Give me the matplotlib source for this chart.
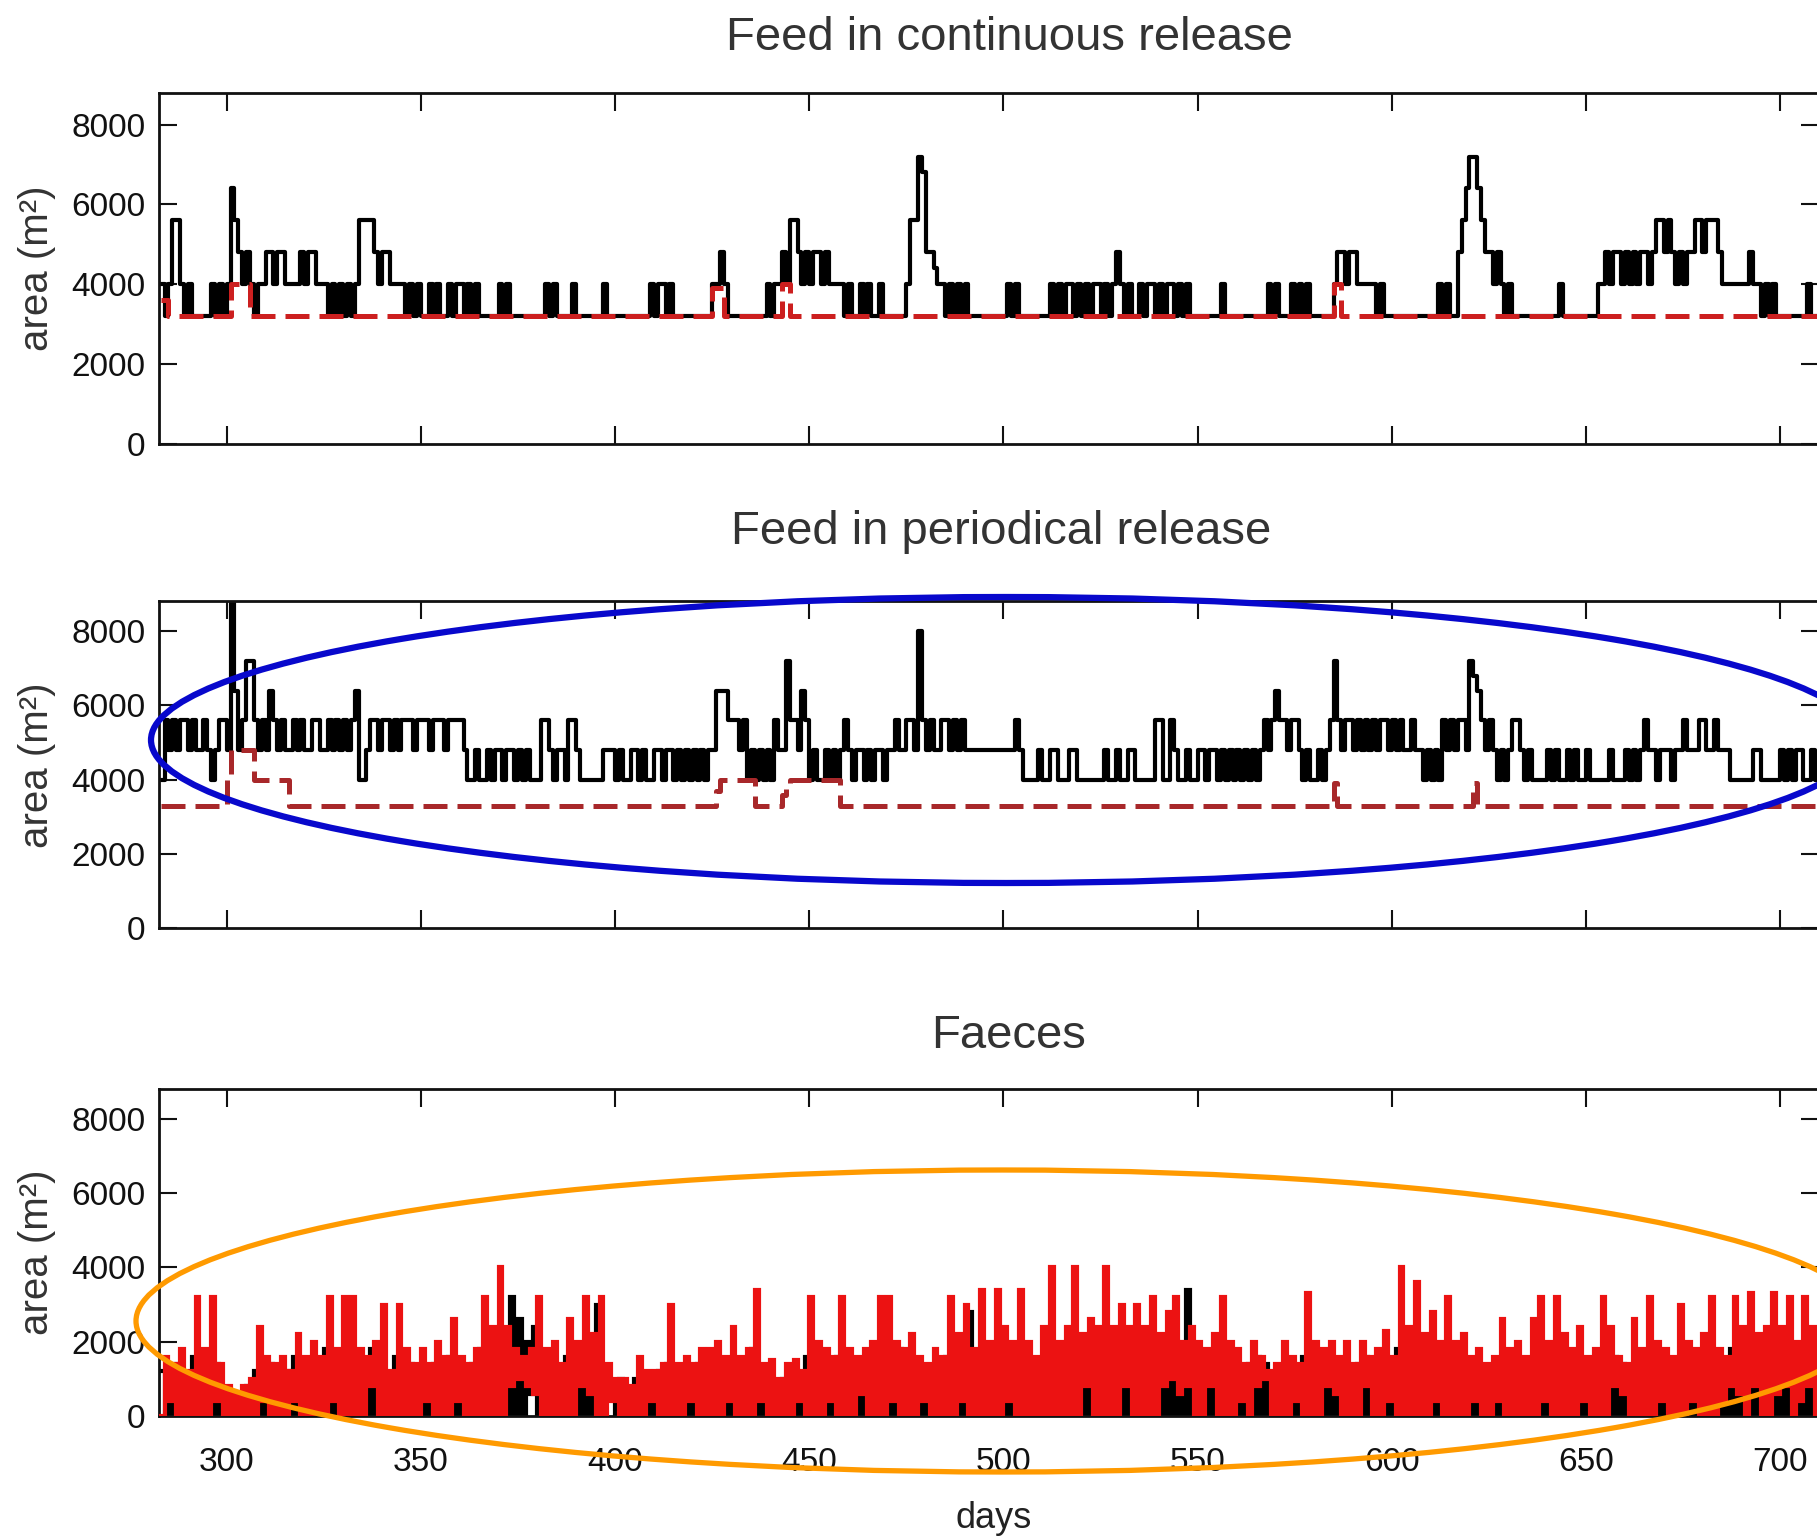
import numpy as np
import matplotlib
matplotlib.use("Agg")
import matplotlib.pyplot as plt
from matplotlib.patches import Ellipse

# ---------------- data (area in m^2, one value per day from FIRST_DAY) ----------------
FIRST_DAY = 283

cont_black = [
    4000, 3200, 4000, 5600, 5600, 4000, 3200, 4000, 3200, 3200,   # 283
    3200, 3200, 3200, 4000, 3200, 4000, 3200, 4000, 6400, 5600,   # 293
    4800, 4000, 4800, 4000, 3200, 4000, 4000, 4800, 4800, 4000,   # 303
    4800, 4800, 4000, 4000, 4000, 4000, 4800, 4000, 4800, 4800,   # 313
    4000, 4000, 4000, 3200, 4000, 3200, 4000, 3200, 4000, 3200,   # 323
    4000, 5600, 5600, 5600, 5600, 4800, 4000, 4800, 4800, 4000,   # 333
    4000, 4000, 4000, 3200, 4000, 3200, 4000, 3200, 3200, 4000,   # 343
    3200, 4000, 3200, 3200, 4000, 3200, 4000, 4000, 3200, 4000,   # 353
    3200, 4000, 3200, 3200, 3200, 3200, 3200, 4000, 3200, 4000,   # 363
    3200, 3200, 3200, 3200, 3200, 3200, 3200, 3200, 3200, 4000,   # 373
    3200, 4000, 3200, 3200, 3200, 3200, 4000, 3200, 3200, 3200,   # 383
    3200, 3200, 3200, 3200, 4000, 3200, 3200, 3200, 3200, 3200,   # 393
    3200, 3200, 3200, 3200, 3200, 3200, 4000, 3200, 4000, 4000,   # 403
    3200, 4000, 3200, 3200, 3200, 3200, 3200, 3200, 3200, 3200,   # 413
    3200, 3200, 4000, 4000, 4800, 4000, 3200, 3200, 3200, 3200,   # 423
    3200, 3200, 3200, 3200, 3200, 3200, 4000, 3200, 4000, 4000,   # 433
    4800, 4000, 5600, 5600, 4800, 4000, 4800, 4000, 4800, 4800,   # 443
    4000, 4800, 4000, 4000, 4000, 4000, 3200, 4000, 3200, 3200,   # 453
    4000, 3200, 4000, 3200, 3200, 4000, 3200, 3200, 3200, 3200,   # 463
    3200, 3200, 4000, 5600, 5600, 7200, 6800, 4800, 4800, 4400,   # 473
    4000, 4000, 3200, 4000, 3200, 4000, 3200, 4000, 3200, 3200,   # 483
    3200, 3200, 3200, 3200, 3200, 3200, 3200, 3200, 4000, 3200,   # 493
    4000, 3200, 3200, 3200, 3200, 3200, 3200, 3200, 3200, 4000,   # 503
    3200, 4000, 3200, 4000, 4000, 3200, 4000, 3200, 4000, 3200,   # 513
    4000, 4000, 3200, 4000, 3200, 4000, 4800, 4000, 3200, 4000,   # 523
    3200, 3200, 4000, 3200, 4000, 4000, 3200, 4000, 3200, 4000,   # 533
    4000, 3200, 4000, 3200, 4000, 3200, 3200, 3200, 3200, 3200,   # 543
    3200, 3200, 3200, 4000, 3200, 3200, 3200, 3200, 3200, 3200,   # 553
    3200, 3200, 3200, 3200, 3200, 4000, 3200, 4000, 3200, 3200,   # 563
    3200, 4000, 3200, 4000, 3200, 4000, 3200, 3200, 3200, 3200,   # 573
    3200, 3200, 4000, 4800, 4800, 4000, 4800, 4800, 4000, 4000,   # 583
    4000, 4000, 4000, 3200, 4000, 3200, 3200, 3200, 3200, 3200,   # 593
    3200, 3200, 3200, 3200, 3200, 3200, 3200, 3200, 3200, 4000,   # 603
    3200, 4000, 3200, 3200, 4800, 5600, 6400, 7200, 7200, 6400,   # 613
    5600, 4800, 4800, 4000, 4800, 4000, 3200, 4000, 3200, 3200,   # 623
    3200, 3200, 3200, 3200, 3200, 3200, 3200, 3200, 3200, 3200,   # 633
    4000, 3200, 3200, 3200, 3200, 3200, 3200, 3200, 3200, 3200,   # 643
    4000, 4000, 4800, 4000, 4800, 4800, 4000, 4800, 4000, 4800,   # 653
    4000, 4800, 4800, 4000, 4800, 5600, 5600, 4800, 5600, 4800,   # 663
    4000, 4800, 4000, 4800, 4800, 5600, 5600, 4800, 5600, 5600,   # 673
    5600, 4800, 4000, 4000, 4000, 4000, 4000, 4000, 4000, 4800,   # 683
    4000, 4000, 3200, 4000, 3200, 4000, 3200, 3200, 3200, 3200,   # 693
    3200, 3200, 3200, 3200, 4000, 3200, 3200, 3200,               # 703
]
cont_red_days = [283, 285, 301, 306, 425, 428, 443, 445, 585, 587, 711]
cont_red_vals = [3600, 3200, 4000, 3200, 3900, 3200, 4000, 3200, 4000, 3200, 3200]

per_black = [
    4000, 5600, 4800, 5600, 4800, 5600, 5600, 4800, 5600, 4800,   # 283
    4800, 5600, 4800, 4000, 4800, 5600, 5600, 4800, 9000, 6400,   # 293
    4800, 5600, 7200, 7200, 5600, 4800, 5600, 4800, 6400, 5600,   # 303
    4800, 5600, 4800, 4800, 5600, 4800, 5600, 4800, 4800, 5600,   # 313
    5600, 4800, 4800, 5600, 4800, 5600, 4800, 5600, 4800, 5600,   # 323
    6400, 4000, 4000, 4800, 5600, 5600, 4800, 5600, 5600, 4800,   # 333
    5600, 4800, 5600, 5600, 5600, 4800, 5600, 5600, 5600, 4800,   # 343
    5600, 5600, 5600, 4800, 5600, 5600, 5600, 5600, 4800, 4000,   # 353
    4000, 4800, 4000, 4000, 4800, 4000, 4800, 4800, 4000, 4800,   # 363
    4800, 4000, 4800, 4000, 4800, 4000, 4000, 4000, 5600, 5600,   # 373
    4800, 4000, 4800, 4800, 4000, 5600, 5600, 4800, 4000, 4000,   # 383
    4000, 4000, 4000, 4000, 4800, 4800, 4800, 4000, 4800, 4000,   # 393
    4000, 4800, 4800, 4000, 4800, 4000, 4000, 4800, 4800, 4000,   # 403
    4800, 4800, 4000, 4800, 4000, 4800, 4000, 4800, 4000, 4800,   # 413
    4000, 4800, 4800, 6400, 6400, 6400, 5600, 5600, 5600, 4800,   # 423
    5600, 4000, 4800, 4000, 4800, 4000, 4800, 4000, 5600, 4800,   # 433
    4800, 7200, 5600, 5600, 4800, 6400, 5600, 4000, 4800, 4000,   # 443
    4000, 4800, 4000, 4800, 4000, 4800, 5600, 4800, 4000, 4800,   # 453
    4800, 4000, 4800, 4000, 4800, 4800, 4000, 4800, 4800, 5600,   # 463
    4800, 4800, 5600, 5600, 4800, 8000, 5600, 4800, 5600, 4800,   # 473
    4800, 5600, 5600, 4800, 5600, 4800, 5600, 4800, 4800, 4800,   # 483
    4800, 4800, 4800, 4800, 4800, 4800, 4800, 4800, 4800, 4800,   # 493
    5600, 4800, 4000, 4000, 4000, 4000, 4800, 4000, 4000, 4800,   # 503
    4800, 4000, 4000, 4000, 4800, 4800, 4000, 4000, 4000, 4000,   # 513
    4000, 4000, 4000, 4800, 4000, 4000, 4800, 4000, 4000, 4800,   # 523
    4800, 4000, 4000, 4000, 4000, 4000, 5600, 5600, 4000, 4000,   # 533
    5600, 4800, 4000, 4000, 4800, 4000, 4000, 4800, 4800, 4000,   # 543
    4800, 4800, 4000, 4800, 4000, 4800, 4000, 4800, 4000, 4800,   # 553
    4000, 4800, 4000, 4800, 5600, 4800, 5600, 6400, 5600, 5600,   # 563
    4800, 5600, 5600, 4800, 4000, 4800, 4000, 4000, 4800, 4000,   # 573
    4800, 5600, 7200, 5600, 4800, 5600, 5600, 4800, 5600, 4800,   # 583
    5600, 4800, 5600, 4800, 5600, 5600, 4800, 5600, 4800, 5600,   # 593
    4800, 4800, 5600, 4800, 4800, 4000, 4800, 4000, 4800, 4000,   # 603
    5600, 4800, 5600, 4800, 5600, 5600, 4800, 7200, 6800, 6400,   # 613
    5600, 4800, 5600, 4800, 4000, 4800, 4000, 4800, 5600, 5600,   # 623
    4800, 4000, 4800, 4000, 4000, 4000, 4000, 4800, 4000, 4800,   # 633
    4000, 4000, 4800, 4000, 4800, 4000, 4000, 4800, 4000, 4000,   # 643
    4000, 4000, 4000, 4800, 4000, 4000, 4000, 4800, 4000, 4800,   # 653
    4000, 4800, 5600, 4800, 4800, 4000, 4800, 4800, 4800, 4000,   # 663
    4800, 4800, 5600, 4800, 4800, 4800, 5600, 5600, 4800, 4800,   # 673
    5600, 4800, 4800, 4800, 4000, 4000, 4000, 4000, 4000, 4000,   # 683
    4800, 4800, 4000, 4000, 4000, 4000, 4000, 4800, 4000, 4800,   # 693
    4000, 4800, 4800, 4000, 4000, 4800, 4000, 4000,               # 703
]
per_red_days = [283, 300, 301, 307, 316, 426, 427, 436, 443, 444, 445, 458,
                585, 586, 621, 622, 711]
per_red_vals = [3300, 4000, 4800, 4000, 3300, 3700, 4000, 3300, 3600, 3900, 4000, 3300,
                3900, 3300, 3900, 3300, 3300]

faeces_red = [
    0, 1600, 400, 1400, 0, 1800, 0, 1200, 0, 3200, 0, 1800, 0, 3200, 400, 1400, 0, 800, 0, 600,            # 283
    0, 800, 0, 1000, 0, 2400, 400, 1600, 0, 1400, 0, 1600, 0, 1200, 400, 2200, 0, 1600, 0, 2000,           # 303
    0, 1600, 0, 3200, 400, 1800, 0, 3200, 0, 3200, 0, 1800, 0, 1600, 800, 2000, 0, 3000, 0, 1200,          # 323
    0, 3000, 0, 1800, 0, 1400, 0, 1800, 400, 1400, 0, 2000, 0, 1600, 0, 2600, 400, 1600, 0, 1400,          # 343
    0, 1800, 0, 3200, 0, 2400, 0, 4000, 0, 2400, 800, 1800, 1000, 1600, 800, 1800, 600, 3200, 0, 1800,     # 363
    0, 2000, 0, 1400, 0, 2600, 0, 2000, 800, 3200, 600, 2200, 0, 3200, 0, 1400, 400, 1000, 0, 1000,        # 383
    0, 800, 0, 1600, 0, 1200, 400, 1200, 0, 1400, 0, 3000, 0, 1400, 0, 1600, 400, 1400, 0, 1800,           # 403
    0, 1800, 0, 2000, 0, 1600, 400, 2400, 0, 1600, 0, 1800, 0, 3400, 400, 1400, 0, 1500, 0, 1000,          # 423
    0, 1400, 0, 1500, 400, 1200, 0, 3200, 0, 2000, 0, 1800, 400, 1600, 0, 3200, 0, 1800, 0, 1600,          # 443
    600, 1800, 0, 2000, 0, 3200, 0, 3200, 400, 2000, 0, 1800, 0, 2200, 0, 1600, 400, 1400, 0, 1800,        # 463
    0, 1600, 0, 3200, 0, 2200, 400, 3000, 0, 1800, 0, 3400, 0, 2000, 0, 3400, 0, 2400, 400, 2000,          # 483
    0, 3400, 0, 2000, 0, 1600, 0, 2400, 0, 4000, 0, 2000, 0, 2400, 0, 4000, 0, 2200, 800, 2600,            # 503
    0, 2400, 0, 4000, 0, 2400, 0, 3000, 800, 2400, 0, 3000, 0, 2400, 0, 3200, 0, 2200, 800, 2800,          # 523
    1000, 3200, 600, 2000, 800, 2400, 0, 2000, 0, 1800, 800, 2200, 0, 3200, 0, 2000, 0, 1800, 400, 1400,   # 543
    0, 2000, 800, 1600, 1000, 1200, 0, 1400, 0, 2000, 0, 1600, 400, 1400, 0, 3300, 0, 2000, 0, 1800,       # 563
    800, 2000, 600, 1600, 0, 2000, 0, 1400, 0, 2000, 800, 1600, 0, 1800, 0, 2300, 400, 1600, 0, 4000,      # 583
    0, 2400, 0, 3600, 0, 2200, 0, 2800, 400, 2000, 0, 3200, 0, 2000, 0, 2200, 0, 1600, 400, 1800,          # 603
    0, 1400, 0, 1600, 400, 2600, 0, 1800, 0, 2000, 0, 1600, 0, 2600, 0, 3200, 400, 2000, 0, 3200,          # 623
    0, 2200, 0, 1800, 0, 2400, 400, 1600, 0, 1800, 0, 3200, 0, 2400, 800, 1600, 600, 1400, 0, 2600,        # 643
    0, 1800, 0, 3200, 0, 2000, 400, 1800, 0, 1600, 0, 3000, 0, 2000, 400, 1800, 0, 2200, 0, 3200,          # 663
    0, 1800, 400, 1600, 800, 3200, 600, 2400, 0, 3300, 800, 2200, 0, 2400, 0, 3300, 600, 2400, 800, 3200,  # 683
    0, 2000, 400, 3200, 800, 2400, 0, 3200,                                                                # 703
]
faeces_black = [
    1200, 0, 800, 0, 1400, 0, 1000, 0, 1600, 0, 1200, 0, 1000, 0, 1400, 0, 600, 0, 400, 0,       # 283
    600, 0, 800, 0, 1200, 0, 1000, 0, 1400, 0, 1000, 0, 1200, 0, 1600, 0, 1200, 0, 1400, 0,      # 303
    1000, 0, 1800, 0, 1200, 0, 1600, 0, 2000, 0, 1400, 0, 1200, 0, 1800, 0, 1400, 0, 1000, 0,    # 323
    1600, 0, 1200, 0, 1400, 0, 1000, 0, 1200, 0, 1400, 0, 1000, 0, 1600, 0, 1200, 0, 1000, 0,    # 343
    1400, 0, 1800, 0, 1400, 0, 2000, 0, 1600, 0, 3200, 0, 2600, 0, 2000, 600, 2400, 0, 1400, 0,  # 363
    1200, 0, 1000, 0, 1600, 0, 1200, 0, 1400, 0, 1800, 0, 3000, 0, 1200, 600, 800, 0, 1000, 0,   # 383
    600, 0, 1000, 0, 800, 0, 1000, 0, 1200, 0, 1400, 0, 1000, 0, 1200, 0, 800, 0, 1400, 0,       # 403
    1000, 0, 1600, 0, 1200, 0, 1400, 0, 1000, 0, 1200, 0, 1800, 0, 1000, 0, 1200, 0, 800, 0,     # 423
    1000, 0, 1200, 0, 1000, 0, 1600, 0, 1400, 0, 1200, 0, 1400, 0, 1600, 0, 1200, 0, 1000, 0,    # 443
    1400, 0, 1200, 0, 1800, 0, 1600, 0, 1400, 0, 1800, 0, 1200, 0, 1000, 0, 1200, 0, 1000, 0,    # 463
    1400, 0, 1600, 0, 1400, 0, 1200, 0, 2800, 0, 1600, 0, 1400, 0, 1800, 0, 1400, 0, 1600, 0,    # 483
    1400, 0, 1200, 0, 1000, 0, 1400, 0, 1600, 0, 1400, 0, 1200, 0, 1800, 0, 1400, 0, 1600, 0,    # 503
    1400, 0, 1800, 0, 1400, 0, 1600, 0, 1400, 0, 1600, 0, 1200, 0, 1600, 0, 1400, 0, 1800, 0,    # 523
    1600, 0, 1400, 0, 3400, 0, 1200, 0, 1400, 0, 1600, 0, 1400, 0, 1800, 0, 1200, 0, 1000, 0,    # 543
    1400, 0, 1600, 0, 1400, 0, 1000, 0, 1200, 0, 1400, 0, 1000, 0, 1600, 0, 1200, 0, 1400, 0,    # 563
    1600, 0, 1400, 0, 1200, 0, 1000, 0, 1400, 0, 1600, 0, 1200, 0, 1400, 0, 1200, 0, 1800, 0,    # 583
    1600, 0, 1400, 0, 1600, 0, 1200, 0, 1400, 0, 1200, 0, 1400, 0, 1000, 0, 1200, 0, 1000, 0,    # 603
    1200, 0, 1000, 0, 1400, 0, 1200, 0, 1400, 0, 1200, 0, 1400, 0, 1600, 0, 1400, 0, 1600, 0,    # 623
    1400, 0, 1200, 0, 1400, 0, 1200, 0, 1000, 0, 1600, 0, 1400, 0, 1600, 0, 1400, 0, 1200, 0,    # 643
    1400, 0, 1600, 0, 1400, 0, 1200, 0, 1000, 0, 1400, 0, 1600, 0, 1200, 0, 1400, 0, 1600, 0,    # 663
    1400, 0, 1200, 0, 1800, 0, 1600, 0, 1400, 0, 1600, 0, 1400, 0, 1800, 0, 1600, 0, 1800, 0,    # 683
    1400, 0, 1600, 0, 1800, 0, 1600, 0,                                                          # 703
]

titles = ["Feed in continuous release", "Feed in periodical release", "Faeces"]
x_ticks = [300, 350, 400, 450, 500, 550, 600, 650, 700]
y_ticks = [0, 2000, 4000, 6000, 8000]
x_range = (282.5, 710.0)
y_range = (0, 8800)
y_label = "area (m\u00b2)"
x_label = "days"

# ---------------- layout (figure pixels) ----------------
W, H = 1817, 1537
SANS = ["Liberation Sans", "DejaVu Sans"]
plt.rcParams["font.family"] = SANS

fig = plt.figure(figsize=(W / 100, H / 100), dpi=100)
fig.patch.set_facecolor("white")

AX_L, AX_R = 158.7, 1819.0
panel_px = [(92.7, 443.8), (601.4, 928.2), (1089.2, 1416.0)]
title_px = [(1009, 49.5), (1001, 544.0), (1009, 1048.0)]

axes = []
for (top, bot) in panel_px:
    ax = fig.add_axes([AX_L / W, 1 - bot / H, (AX_R - AX_L) / W, (bot - top) / H])
    ax.set_xlim(*x_range)
    ax.set_ylim(*y_range)
    ax.set_xticks(x_ticks)
    ax.set_yticks(y_ticks)
    ax.tick_params(direction="in", length=13, width=1.5, top=True, right=True,
                   colors="#111111")
    ax.tick_params(axis="y", labelsize=24, pad=9.5)
    ax.tick_params(axis="x", labelsize=24, pad=22.5)
    for sp in ax.spines.values():
        sp.set_linewidth(2.0)
        sp.set_color("#111111")
    ax.set_ylabel(y_label, fontsize=29, color="#333333")
    ax.yaxis.set_label_coords(-0.062, 0.5)
    axes.append(ax)

for ax in axes[:2]:
    ax.tick_params(labelbottom=False)

days_c = np.arange(FIRST_DAY, FIRST_DAY + len(cont_black))
days_p = np.arange(FIRST_DAY, FIRST_DAY + len(per_black))
days_fr = np.arange(FIRST_DAY, FIRST_DAY + len(faeces_red))
days_fb = np.arange(FIRST_DAY, FIRST_DAY + len(faeces_black))

dash = (0, (4.8, 2.0))
# Panel 1
a1 = axes[0]
a1.step(days_c, cont_black, where="post", color="black", lw=3.0, zorder=2)
a1.step(cont_red_days, cont_red_vals, where="post", color="#cc1f1f", lw=3.6,
        ls=dash, zorder=3)
# Panel 2
a2 = axes[1]
a2.step(days_p, per_black, where="post", color="black", lw=3.0, zorder=2)
a2.step(per_red_days, per_red_vals, where="post", color="#a8282a", lw=3.6,
        ls=dash, zorder=3)
# Panel 3
a3 = axes[2]
a3.step(days_fb, faeces_black, where="post", color="black", lw=3.0, zorder=2,
        solid_joinstyle="miter")
a3.step(days_fr, faeces_red, where="post", color="#ec1212", lw=3.0, zorder=3,
        solid_joinstyle="miter")
a3.set_xlabel(x_label, fontsize=26, color="#222222")
a3.xaxis.set_label_coords(0.503, -0.26)

for t, (tx, ty) in zip(titles, title_px):
    fig.text(tx / W, 1 - ty / H, t, ha="center", va="baseline", fontsize=34,
             color="#333333")

# Hand-drawn annotation ellipses
def add_ellipse(cx, cy, a, b, color, lw):
    e = Ellipse((cx / W, 1 - cy / H), width=2 * a / W, height=2 * b / H,
                transform=fig.transFigure, fill=False, edgecolor=color,
                lw=lw, clip_on=False, zorder=10)
    fig.add_artist(e)

add_ellipse(1006, 740, 855, 143, "#0808cc", 4.5)
add_ellipse(1002, 1321, 866, 151, "#ff9a00", 3.8)

fig.savefig("out.png", dpi=100, facecolor="white")
